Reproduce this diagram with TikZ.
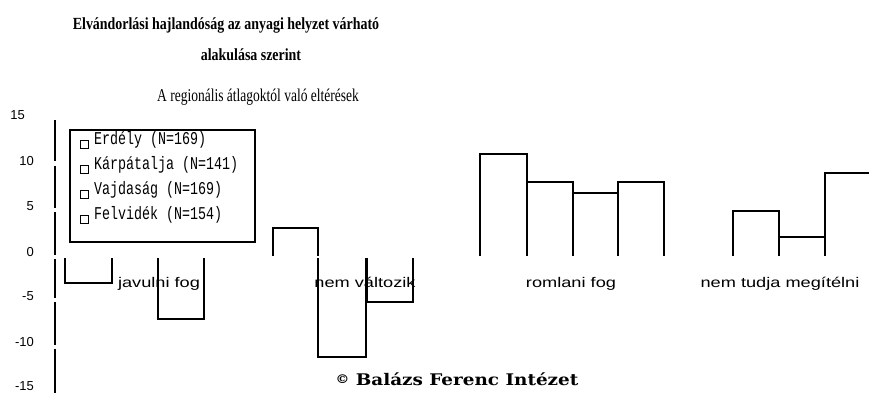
\documentclass[tikz,border=0pt]{standalone}
\usepackage{fontspec}
\setmainfont{Liberation Serif}
\newfontfamily\titlefont[FakeStretch=0.82]{Liberation Serif}
\newfontfamily\subfont[FakeStretch=0.75]{Liberation Serif}
\newfontfamily\legfont[FakeStretch=0.74]{Liberation Mono}
\newfontfamily\catfont[FakeStretch=1.3]{Liberation Sans}
\newfontfamily\axfont{Liberation Sans}
\newfontfamily\crfont[FakeStretch=1.15]{DejaVu Serif}
\tikzset{
  barline/.style={draw=black, line width=1.4pt},
  catlabel/.style={font=\catfont\fontsize{14}{14}\selectfont, inner sep=0pt, anchor=base},
  axlabel/.style={font=\axfont\fontsize{13}{13}\selectfont, inner sep=0pt, anchor=east},
  legtext/.style={font=\legfont\fontsize{18}{18}\selectfont, inner sep=0pt, anchor=west},
  legbox/.style={draw=black, line width=0.9pt, minimum size=8pt, inner sep=0pt},
}
\newcommand\posbar[3]{\draw[barline] (#1,256) -- (#1,#3) -- (#2,#3) -- (#2,256);}
\newcommand\negbar[3]{\draw[barline] (#1,258) -- (#1,#3) -- (#2,#3) -- (#2,258);}
\begin{document}
\begin{tikzpicture}[x=1pt, y=-1pt]
\useasboundingbox (0,0) rectangle (869,394);
% titles
\node[font=\titlefont\bfseries\fontsize{17}{17}\selectfont, inner sep=0pt] (t1) at (226,25) {Elvándorlási hajlandóság az anyagi helyzet várható};
\node[font=\titlefont\bfseries\fontsize{17}{17}\selectfont, inner sep=0pt] (t2) at (251,55) {alakulása szerint};
\node[font=\subfont\fontsize{18}{18}\selectfont, inner sep=0pt] (st) at (258,97) {A regionális átlagoktól való eltérések};
% axis
\foreach \a/\b in {120/161, 166/208, 212/255, 259/298, 302/345, 349/393}
  \draw[line width=1.4pt] (55,\a) -- (55,\b);
\node[axlabel] (y15) at (25,115) {15};
\node[axlabel] (y10) at (34,161) {10};
\node[axlabel] (y5) at (34,206) {5};
\node[axlabel] (y0) at (34,252) {0};
\node[axlabel] (ym5) at (34,296) {-5};
\node[axlabel] (ym10) at (34,342) {-10};
\node[axlabel] (ym15) at (34,386) {-15};
% category labels
\node[catlabel] (c1) at (159,287) {javulni fog};
\node[catlabel] (c2) at (365,287) {nem változik};
\node[catlabel] (c3) at (571,287) {romlani fog};
\node[catlabel] (c4) at (780,287) {nem tudja megítélni};
% bars
\negbar{65}{112}{283}
\negbar{158}{204}{319}
\posbar{273}{318}{228}
\negbar{318}{366}{357}
\negbar{367}{413}{302}
\posbar{480}{527}{154}
\posbar{527}{573}{182}
\posbar{573}{618}{193}
\posbar{618}{664}{182}
\posbar{733}{779}{211}
\posbar{779}{825}{237}
\posbar{825}{871}{173}
% legend
\draw[line width=1.2pt] (70,130) rectangle (255,242);
\foreach \yy/\txt [count=\i] in {140/{Erdély (N=169)}, 165/{Kárpátalja (N=141)}, 190/{Vajdaság (N=169)}, 215/{Felvidék (N=154)}} {
  \node[legbox] (lb\i) at (84.5,\yy+4) {};
  \node[legtext] (lt\i) at (94,\yy) {\txt};
}
% copyright
\node[font=\crfont\bfseries\fontsize{16}{16}\selectfont, inner sep=0pt] (cr) at (457,379) {\raisebox{2pt}{\fontsize{12}{12}\selectfont ©} Balázs Ferenc Intézet};
\end{tikzpicture}
\end{document}
